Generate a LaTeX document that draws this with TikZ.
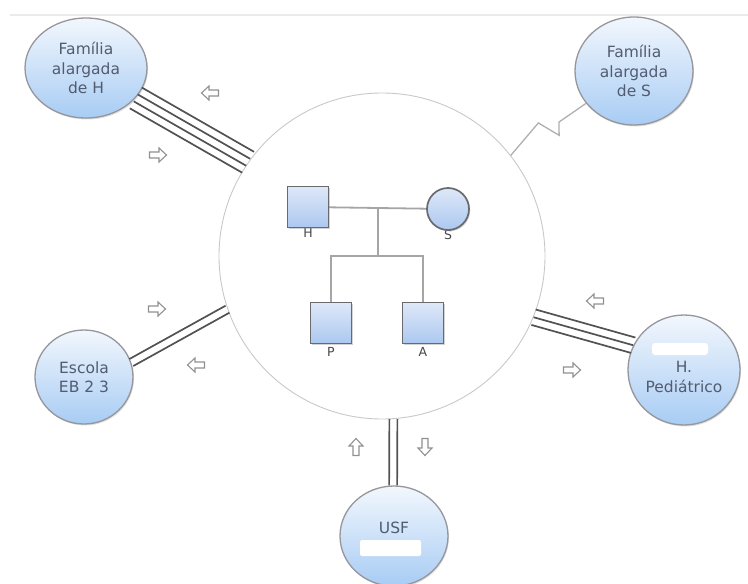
\documentclass[tikz,border=0pt]{standalone}
\usepackage{fontspec}
\newfontfamily\dv{DejaVu Sans}
\usetikzlibrary{calc,shapes.geometric,shadows}

\definecolor{txtc}{RGB}{82,92,112}
\definecolor{tiec}{RGB}{82,82,82}
\definecolor{ringc}{RGB}{200,200,200}
\definecolor{satedge}{RGB}{150,150,155}
\definecolor{sattop}{RGB}{242,247,253}
\definecolor{satbot}{RGB}{168,204,244}
\definecolor{gentop}{RGB}{222,232,248}
\definecolor{genbot}{RGB}{172,200,240}
\definecolor{genedge}{RGB}{105,105,110}
\definecolor{genline}{RGB}{165,165,165}
\definecolor{arrc}{RGB}{145,145,145}
\definecolor{stressc}{RGB}{175,175,175}

\begin{document}
\begin{tikzpicture}[x=1pt,y=-1pt,
  sat/.style={ellipse, draw=satedge, line width=1.3pt, top color=sattop,
    bottom color=satbot, inner sep=0pt, align=center, text=txtc,
    font=\dv\fontsize{15.5}{19.5}\selectfont,
    drop shadow={shadow xshift=1pt, shadow yshift=-1.5pt, opacity=0.25}},
  sattext/.style={align=center, text=txtc, inner sep=0pt,
    font=\dv\fontsize{15.5}{19.5}\selectfont},
  male/.style={rectangle, draw=genedge, line width=1.7pt, top color=gentop,
    bottom color=genbot, minimum size=41pt, inner sep=0pt,
    drop shadow={shadow xshift=1.3pt, shadow yshift=-1.3pt, opacity=0.35}},
  female/.style={circle, draw=genedge, line width=1.7pt, top color=gentop,
    bottom color=genbot, minimum size=42pt, inner sep=0pt,
    drop shadow={shadow xshift=1.3pt, shadow yshift=-1.3pt, opacity=0.35}},
  glabel/.style={text=black!72, inner sep=0pt, font=\dv\fontsize{12.5}{13}\selectfont},
  genlink/.style={draw=genline, line width=1.8pt},
  tie/.style={draw=tiec, line width=1.7pt},
  stress/.style={draw=stressc, line width=1.3pt, line join=miter},
  flow/.pic={
    \draw[draw=arrc, fill=white, line width=1.1pt, line join=miter]
      (-8.5,-3) -- (1,-3) -- (1,-7) -- (8.5,0) -- (1,7) -- (1,3)
      -- (-8.5,3) -- cycle;
  }]

\useasboundingbox (0,0) rectangle (748,584);

% faint rule along the top
\draw[draw=black!8, line width=1.5pt] (10,15) -- (748,15);

% household ring
\node[circle, draw=ringc, line width=0.9pt, minimum size=326pt, inner sep=0pt]
  (big) at (382,256) {};

% surrounding systems
\node[sat, minimum width=122pt, minimum height=100pt] (famH) at (86,68)
  {Família\\alargada\\de H};
\node[sat, minimum width=118pt, minimum height=108pt] (famS) at (634,71)
  {Família\\alargada\\de S};
\node[sat, minimum width=98pt, minimum height=94pt] (esc) at (84,377)
  {Escola\\EB 2 3};
\node[sat, minimum width=112pt, minimum height=110pt] (ped) at (684,370) {};
\node[sattext] (pedtxt) at (684,377) {H.\\Pediátrico};
\fill[white, rounded corners=3pt] (652,343) rectangle (708,355);
\node[sat, minimum width=108pt, minimum height=100pt] (usf) at (394,536) {};
\node[sattext] (usftxt) at (394,528) {USF};
\fill[white, rounded corners=2pt] (360,540) rectangle (421,556);

% strong ties (parallel lines)
\foreach \o in {-12,-4,4,12}
  \draw[tie] ($(famH.-31)!\o pt!90:(big.145)$) -- ($(big.145)!\o pt!-90:(famH.-31)$);
\foreach \o in {-4,4}
  \draw[tie] ($(esc.17)!\o pt!90:(big.199)$) -- ($(big.199)!\o pt!-90:(esc.17)$);
\foreach \o in {-8,0,8}
  \draw[tie] ($(big.-22.3)!\o pt!90:(ped.154)$) -- ($(ped.154)!\o pt!-90:(big.-22.3)$);
\foreach \o in {-4,4}
  \draw[tie] ($(big.-86)!\o pt!90:(usf.91)$) -- ($(usf.91)!\o pt!-90:(big.-86)$);

% stressful tie
\coordinate (z0) at (big.38);
\coordinate (z1) at (famS.214.5);
\draw[stress] (z0) -- ($(z0)!0.45!(z1)!11pt!90:(z1)$)
  -- ($(z0)!0.56!(z1)!11pt!-90:(z1)$) -- ($(z0)!0.64!(z1)$) -- (z1);

% flow of energy
\pic[rotate=180] at (210,93) {flow};
\pic at (158,155) {flow};
\pic at (157,309) {flow};
\pic[rotate=180] at (196,365) {flow};
\pic[rotate=180] at (595,301) {flow};
\pic at (572,370) {flow};
\pic[rotate=90] at (356,447) {flow};
\pic[rotate=-90] at (425,447) {flow};

% genogram
\node[glabel] (lH) at (308,233) {H};
\node[glabel] (lS) at (448,235) {S};
\node[glabel] (lP) at (331,352) {P};
\node[glabel] (lA) at (423,352) {A};

\coordinate (Hc) at (308,207);
\coordinate (Sc) at (448,209);
\coordinate (m) at ($(Hc)!0.5!(Sc)$);
\coordinate (sib) at ($(m)+(0,48)$);
\coordinate (Pc) at (331,323);
\coordinate (Ac) at (423,323);
\draw[genlink] (Hc) -- (Sc);
\draw[genlink] (m) -- (sib);
\draw[genlink] (Pc) |- (sib) -| (Ac);

\node[male] (H) at (Hc) {};
\node[female] (S) at (Sc) {};
\node[male] (P) at (Pc) {};
\node[male] (A) at (Ac) {};
\end{tikzpicture}
\end{document}
